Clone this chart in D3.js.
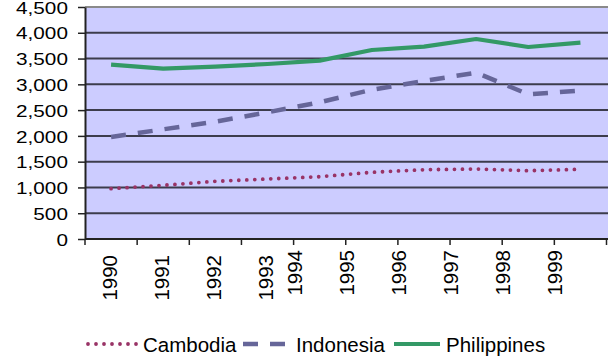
<!DOCTYPE html>
<html>
<head>
<meta charset="utf-8">
<script src="https://cdn.jsdelivr.net/npm/d3@7"></script>
<style>
  html, body { margin: 0; padding: 0; background: #ffffff; }
  svg { display: block; font-family: "Liberation Sans", Arial, sans-serif; }
</style>
</head>
<body>
<svg id="chart" width="608" height="358"></svg>
<script>
// Yearly values per country, 1990–1999
const years = ["1990", "1991", "1992", "1993", "1994", "1995", "1996", "1997", "1998", "1999"];
const cambodia    = [976, 1042, 1119, 1164, 1208, 1294, 1344, 1358, 1325, 1352];
const indonesia   = [1979, 2128, 2275, 2458, 2652, 2895, 3065, 3226, 2807, 2877];
const philippines = [3381, 3303, 3342, 3394, 3459, 3666, 3730, 3879, 3724, 3808];
const yTicks = [0, 500, 1000, 1500, 2000, 2500, 3000, 3500, 4000, 4500];

const seriesList = [
  { name: "Cambodia",    values: cambodia,    color: "#993366", width: 3.8, dash: "0,8",   cap: "round" },
  { name: "Indonesia",   values: indonesia,   color: "#666699", width: 4.5, dash: "15,12", cap: "butt" },
  { name: "Philippines", values: philippines, color: "#339966", width: 4.2, dash: null,    cap: "butt" }
];

const svg = d3.select("#chart");
const plotLeft = 85, plotRight = 606.5, plotTop = 7, plotBottom = 239;

const x = d3.scaleBand().domain(years).range([plotLeft, plotRight]).padding(0);
const y = d3.scaleLinear().domain([0, 4500]).range([plotBottom, plotTop]);

// plot area
svg.append("rect")
  .attr("x", plotLeft).attr("y", plotTop)
  .attr("width", 620 - plotLeft).attr("height", plotBottom - plotTop)
  .attr("fill", "#ccccff");

// horizontal gridlines
svg.append("g").selectAll("line")
  .data(yTicks.filter(v => v > 0 && v < 4500))
  .join("line")
  .attr("x1", plotLeft).attr("x2", 620)
  .attr("y1", d => y(d)).attr("y2", d => y(d))
  .attr("stroke", "#3c3c4c").attr("stroke-width", 2);

// top border
svg.append("line")
  .attr("x1", plotLeft).attr("x2", 620)
  .attr("y1", y(4500)).attr("y2", y(4500))
  .attr("stroke", "#8a8a8a").attr("stroke-width", 2);

// y axis
const yAxis = svg.append("g")
  .attr("transform", `translate(${plotLeft},0)`)
  .call(d3.axisLeft(y).tickValues(yTicks).tickFormat(d3.format(",")).tickSize(7).tickSizeOuter(0));
yAxis.select(".domain").attr("stroke", "#222").attr("stroke-width", 2);
yAxis.selectAll(".tick line").attr("stroke", "#222").attr("stroke-width", 1.5);
yAxis.selectAll(".tick text")
  .attr("fill", "#000")
  .attr("font-size", "17px")
  .attr("x", -14)
  .attr("dy", "0.36em")
  .attr("transform", "scale(1.22,1)");

// x axis: ticks at band boundaries
const bounds = years.map(d => x(d)).concat([plotRight]);
const xAxis = svg.append("g");
xAxis.append("line")
  .attr("x1", plotLeft).attr("x2", 620)
  .attr("y1", plotBottom).attr("y2", plotBottom)
  .attr("stroke", "#222").attr("stroke-width", 2);
xAxis.selectAll("line.tk")
  .data(bounds)
  .join("line")
  .attr("class", "tk")
  .attr("x1", d => d).attr("x2", d => d)
  .attr("y1", plotBottom).attr("y2", plotBottom + 6)
  .attr("stroke", "#222").attr("stroke-width", 1.5);

// year labels, rotated; the later labels sit on the band's left tick
xAxis.selectAll("text")
  .data(years)
  .join("text")
  .attr("transform", (d, i) => {
    const shifted = i >= 4;
    const cx = shifted ? x(d) + 1 : x(d) + x.bandwidth() / 2 - 1.5;
    const ty = shifted ? 250 : 255;
    return `translate(${cx + 7},${ty}) rotate(-90)`;
  })
  .attr("text-anchor", "end")
  .attr("font-size", "20.5px")
  .attr("fill", "#000")
  .text(d => d);

// series lines
const line = d3.line()
  .x((d, i) => x(years[i]) + x.bandwidth() / 2)
  .y(d => y(d));

svg.append("g").selectAll("path")
  .data(seriesList)
  .join("path")
  .attr("d", s => line(s.values))
  .attr("fill", "none")
  .attr("stroke", s => s.color)
  .attr("stroke-width", s => s.width)
  .attr("stroke-dasharray", s => s.dash)
  .attr("stroke-linecap", s => s.cap)
  .attr("stroke-linejoin", "round");

// legend
const legendItems = [
  { s: seriesList[0], x1: 88,  x2: 138, tx: 143 },
  { s: seriesList[1], x1: 243, x2: 288, tx: 296 },
  { s: seriesList[2], x1: 394, x2: 440, tx: 446 }
];
const legend = svg.append("g");
legend.selectAll("line")
  .data(legendItems)
  .join("line")
  .attr("x1", d => d.x1).attr("x2", d => d.x2)
  .attr("y1", 344).attr("y2", 344)
  .attr("stroke", d => d.s.color)
  .attr("stroke-width", d => d.s.width)
  .attr("stroke-dasharray", d => d.s.dash)
  .attr("stroke-linecap", d => d.s.cap);
legend.selectAll("text")
  .data(legendItems)
  .join("text")
  .attr("x", d => d.tx)
  .attr("y", 351.5)
  .attr("font-size", "20.5px")
  .attr("fill", "#000")
  .text(d => d.s.name);
</script>
</body>
</html>
